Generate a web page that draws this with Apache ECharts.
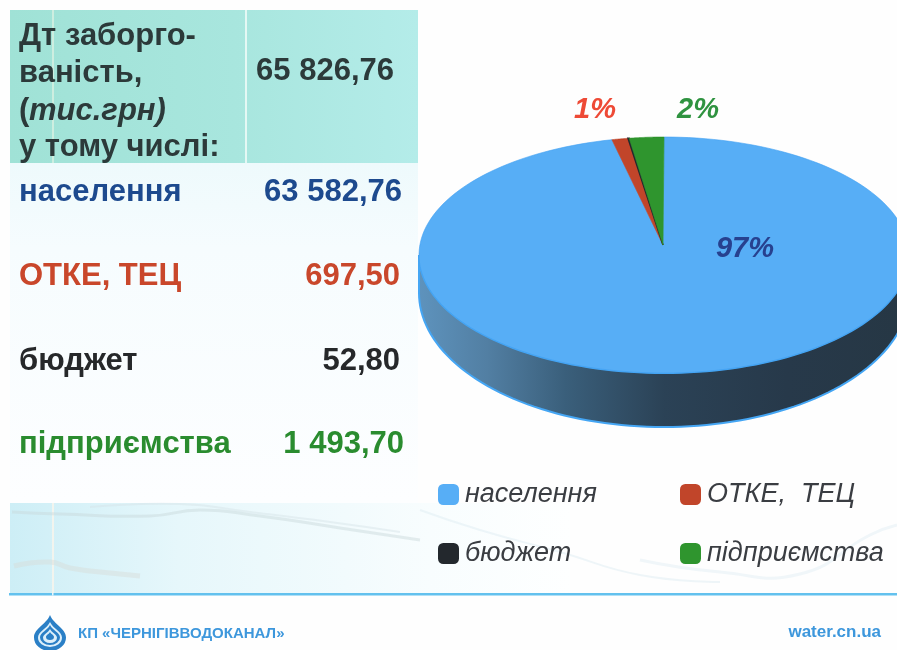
<!DOCTYPE html>
<html><head><meta charset="utf-8">
<style>html,body{margin:0;padding:0;background:#fff}#c{width:897px;height:650px}</style>
<script src="https://cdn.jsdelivr.net/npm/echarts@6/dist/echarts.min.js"></script>
</head><body><div id="c"></div>
<script>
const categories = ['населення', 'ОТКЕ, ТЕЦ', 'бюджет', 'підприємства'];
const debtValues = [63582.76, 697.50, 52.80, 1493.70];
const valueLabels = ['63 582,76', '697,50', '52,80', '1 493,70'];
const totalLabel = '65 826,76';
const headerLines = ['Дт заборго-', 'ваність,', '(', 'у тому числі:'];
const headerItalic = 'тис.грн)';
const percentLabels = ['97%', '1%', '', '2%'];

const sliceColors = ['#57aef6', '#c1452a', '#23282d', '#2f952e'];
const pctColors = ['#27418f', '#ee4a36', '', '#2f9340'];
const rowColors = ['#1d4a8e', '#c9472b', '#26282a', '#2a8c2f'];
const pctPos = [[745, 249], [595, 110], null, [698, 110]];
const rowY = [192, 276, 361, 444];
const valRight = [402, 400, 400, 404];
const legendPos = [[438, 481], [680, 481], [438, 540], [680, 540]];

const E = { cx: 664, cy: 255, rx: 245, ry: 118, ax: 663, ay: 245, by: 293, bry: 134 };
const FONT = '"Liberation Sans", Arial, sans-serif';
const rad = d => d * Math.PI / 180;
const topPt = a => [E.cx + E.rx * Math.sin(rad(a)), E.cy - E.ry * Math.cos(rad(a))];
const botPt = a => [E.cx + E.rx * Math.sin(rad(a)), E.by - E.bry * Math.cos(rad(a))];
const sum = debtValues.reduce((a, b) => a + b, 0);

function renderSlice(idx) {
  return function (params, api) {
    let before = 0;
    for (let i = 0; i < idx; i++) before += debtValues[i];
    const start = before / sum * 360;
    const end = start + api.value(0) / sum * 360;
    const children = [];
    if (idx === 0) {
      const wall = [];
      for (let a = 90; a <= 270; a += 2) wall.push(topPt(a));
      for (let a = 270; a >= 90; a -= 2) wall.push(botPt(a));
      children.push({
        type: 'polygon', shape: { points: wall },
        style: {
          fill: { type: 'linear', x: 0, y: 0, x2: 1, y2: 0, colorStops: [
            { offset: 0, color: '#5e93bd' }, { offset: 0.14, color: '#527fa3' },
            { offset: 0.3, color: '#3a5f7b' }, { offset: 0.5, color: '#2b4256' },
            { offset: 0.75, color: '#27394a' }, { offset: 1, color: '#263744' }] },
          stroke: '#45a6f4', lineWidth: 2
        }
      });
    }
    const pts = [[E.ax, E.ay]];
    const step = (end - start) / 180;
    for (let i = 0; i <= 180; i++) pts.push(topPt(start + i * step));
    children.push({
      type: 'polygon', shape: { points: pts },
      style: { fill: sliceColors[idx], stroke: idx === 0 ? '#3f9ff2' : sliceColors[idx], lineWidth: idx === 2 ? 1.5 : 0.6 }
    });
    if (percentLabels[idx]) {
      children.push({
        type: 'text', z2: 10,
        style: { text: percentLabels[idx], x: pctPos[idx][0], y: pctPos[idx][1], fill: pctColors[idx],
          font: 'italic bold 29px ' + FONT, textAlign: 'center', textVerticalAlign: 'middle' }
      });
    }
    return { type: 'group', children };
  };
}

const series = categories.map((name, i) => ({
  name, type: 'custom', coordinateSystem: 'none', silent: true, animation: false, z: i === 0 ? 2 : 3,
  itemStyle: { color: sliceColors[i] },
  data: [[debtValues[i]]], renderItem: renderSlice(i)
}));

const logoLight = '#dceffa';
const logoBlue = '#2a7fc6';
const dropPath = 'M16 0 C20 10 32 14 32 23 A16 14 0 0 1 0 23 C0 14 12 10 16 0 Z';
const dropAt = (x, y, w, h, fill) => ({ type: 'path', shape: { pathData: dropPath, x, y, width: w, height: h, layout: 'cover' }, style: { fill } });
series.push({
  name: 'logo', type: 'custom', coordinateSystem: 'none', silent: true, animation: false, z: 6,
  data: [[0]],
  renderItem: () => ({ type: 'group', children: [
    dropAt(34, 615, 32, 36, logoBlue),
    dropAt(38, 622, 24, 25, logoLight),
    dropAt(40, 625, 20, 20, logoBlue),
    dropAt(43, 629, 14, 14, logoLight),
    dropAt(46, 632, 8, 8, logoBlue)
  ] })
});

const legends = categories.map((name, i) => ({
  data: [name], left: legendPos[i][0], top: legendPos[i][1], selectedMode: false,
  icon: 'roundRect', itemWidth: 21, itemHeight: 21, itemGap: 0, padding: 0,
  formatter: n => n.replace(', ', ',  '),
  textStyle: { fontFamily: FONT, fontStyle: 'italic', fontSize: 27, color: '#3a3d42', padding: [3, 0, 0, 1] }
}));

const txt = (text, x, y, font, fill, align) => ({
  type: 'text', z: 5, style: { text, x, y, font, fill, textAlign: align || 'left', textVerticalAlign: 'middle' }
});
const rect = (x, y, w, h, fill, z) => ({ type: 'rect', z: z === undefined ? -3 : z, shape: { x, y, width: w, height: h }, style: { fill } });
const wave = (pts, c, w) => ({ type: 'polyline', z: -1, shape: { points: pts, smooth: 0.5 }, style: { stroke: c, lineWidth: w, fill: null, opacity: 0.45 } });
const B = 'bold 31px ' + FONT;

const graphic = [
  rect(0, 0, 897, 650, '#fefefe', -5),
  rect(10, 163, 408, 340, { type: 'linear', x: 0, y: 0, x2: 0, y2: 1, colorStops: [
    { offset: 0, color: '#eefafc' }, { offset: 0.25, color: '#f6fcfe' }, { offset: 1, color: '#fdfeff' }] }, -4),
  rect(10, 503, 560, 91, { type: 'linear', x: 0, y: 0, x2: 1, y2: 0, colorStops: [
    { offset: 0, color: '#cdeef6' }, { offset: 0.3, color: '#e6f7fb' }, { offset: 0.75, color: '#f8fdfe' }, { offset: 1, color: '#feffff' }] }, -4),
  rect(10, 10, 408, 153, { type: 'linear', x: 0, y: 0, x2: 1, y2: 0, colorStops: [
    { offset: 0, color: '#a0e2d6' }, { offset: 0.55, color: '#a8e6de' }, { offset: 1, color: '#b4ece9' }] }, -3),
  rect(52, 10, 2, 153, '#cdeee0', -2),
  rect(52, 503, 2, 91, '#f2f4ee', -2),
  rect(245, 10, 2, 153, '#e4f8f4', -2),
  wave([[12, 512], [60, 514], [150, 516], [200, 510], [260, 516], [340, 528], [420, 540]], '#c8d6da', 3),
  wave([[90, 507], [180, 504], [250, 512], [330, 522], [400, 532]], '#d4e2e6', 2),
  wave([[14, 566], [50, 562], [70, 568], [110, 573], [140, 576]], '#d6dcd8', 5),
  wave([[420, 510], [480, 530], [560, 552], [640, 575], [720, 582]], '#dcecf2', 2),
  wave([[640, 560], [720, 572], [800, 574], [870, 535], [897, 525]], '#dfeef3', 3),
  rect(9, 593, 888, 2.5, '#63c1ee', 0),
  rect(52, 593, 1.5, 2.5, '#e8f6fb', 1),
  ...headerLines.map((t, i) => txt(t, 19, [36, 73, 111, 147][i], B, '#2c3a3a')),
  txt(headerItalic, 29, 111, 'italic bold 31px ' + FONT, '#2c3a3a'),
  txt(totalLabel, 394, 71, B, '#2c3a3a', 'right'),
  ...categories.map((c, i) => txt(c, 19, rowY[i], B, rowColors[i])),
  ...valueLabels.map((v, i) => txt(v, valRight[i], rowY[i], B, rowColors[i], 'right')),
  txt('КП «ЧЕРНІГІВВОДОКАНАЛ»', 78, 634, 'bold 15px ' + FONT, '#3d97dc'),
  txt('water.cn.ua', 881, 632, 'bold 17px ' + FONT, '#3d97dc', 'right')
];

const chart = echarts.init(document.getElementById('c'), null, { renderer: 'canvas', width: 897, height: 650 });
chart.setOption({ animation: false, backgroundColor: '#fefefe', legend: legends, series, graphic });
</script></body></html>
